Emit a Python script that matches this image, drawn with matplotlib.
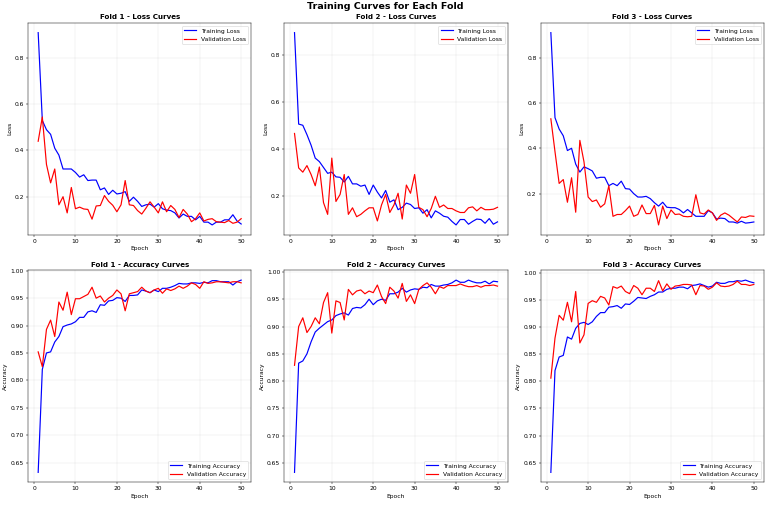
import matplotlib
matplotlib.use("Agg")
import matplotlib.pyplot as plt
import numpy as np

epochs = np.arange(1, 51)

# Fold 1
f1_train_loss = [0.91, 0.53, 0.49, 0.47, 0.41, 0.38, 0.32, 0.32, 0.32, 0.305,
                 0.285, 0.295, 0.27, 0.272, 0.272, 0.23, 0.238, 0.21, 0.228, 0.212,
                 0.215, 0.222, 0.18, 0.198, 0.18, 0.158, 0.165, 0.168, 0.155, 0.17,
                 0.148, 0.142, 0.14, 0.13, 0.108, 0.125, 0.115, 0.115, 0.1, 0.115,
                 0.09, 0.09, 0.078, 0.09, 0.09, 0.1, 0.1, 0.122, 0.095, 0.082]
f1_val_loss = [0.44, 0.545, 0.34, 0.26, 0.32, 0.165, 0.2, 0.13, 0.24, 0.148,
               0.155, 0.147, 0.145, 0.103, 0.16, 0.162, 0.205, 0.18, 0.163, 0.135,
               0.165, 0.27, 0.165, 0.162, 0.14, 0.125, 0.15, 0.178, 0.155, 0.13,
               0.178, 0.135, 0.162, 0.145, 0.11, 0.145, 0.125, 0.092, 0.105, 0.13,
               0.095, 0.102, 0.105, 0.092, 0.09, 0.088, 0.097, 0.085, 0.09, 0.105]
f1_train_acc = [0.632, 0.82, 0.85, 0.852, 0.87, 0.88, 0.898, 0.901, 0.903, 0.907,
                0.915, 0.915, 0.925, 0.927, 0.924, 0.938, 0.937, 0.945, 0.946, 0.951,
                0.95, 0.944, 0.955, 0.955, 0.956, 0.965, 0.963, 0.96, 0.965, 0.962,
                0.968, 0.968, 0.97, 0.973, 0.977, 0.976, 0.976, 0.978, 0.978, 0.977,
                0.979, 0.978, 0.982, 0.982, 0.98, 0.98, 0.98, 0.974, 0.98, 0.983]
f1_val_acc = [0.852, 0.825, 0.893, 0.91, 0.88, 0.943, 0.928, 0.961, 0.92, 0.949,
              0.949, 0.953, 0.957, 0.97, 0.95, 0.954, 0.943, 0.95, 0.955, 0.965,
              0.958, 0.927, 0.958, 0.96, 0.962, 0.97, 0.963, 0.96, 0.965, 0.968,
              0.959, 0.967, 0.964, 0.967, 0.972, 0.968, 0.972, 0.978, 0.975, 0.968,
              0.98, 0.977, 0.978, 0.98, 0.98, 0.979, 0.978, 0.98, 0.98, 0.978]

# Fold 2
f2_train_loss = [0.895, 0.505, 0.5, 0.46, 0.415, 0.36, 0.345, 0.32, 0.295, 0.3,
                 0.28, 0.278, 0.258, 0.282, 0.25, 0.25, 0.24, 0.245, 0.205, 0.245,
                 0.215, 0.19, 0.222, 0.172, 0.182, 0.14, 0.15, 0.168, 0.162, 0.145,
                 0.148, 0.125, 0.14, 0.105, 0.135, 0.125, 0.112, 0.108, 0.09, 0.075,
                 0.098, 0.098, 0.078, 0.09, 0.1, 0.098, 0.082, 0.102, 0.078, 0.088]
f2_val_loss = [0.465, 0.318, 0.3, 0.328, 0.29, 0.242, 0.322, 0.17, 0.12, 0.36,
               0.175, 0.205, 0.29, 0.12, 0.148, 0.11, 0.12, 0.135, 0.148, 0.148,
               0.092, 0.16, 0.205, 0.128, 0.16, 0.21, 0.1, 0.245, 0.21, 0.29,
               0.15, 0.14, 0.11, 0.145, 0.197, 0.15, 0.16, 0.145, 0.145, 0.135,
               0.128, 0.128, 0.148, 0.152, 0.135, 0.15, 0.14, 0.14, 0.142, 0.15]
f2_train_acc = [0.633, 0.833, 0.837, 0.85, 0.872, 0.89, 0.897, 0.903, 0.909, 0.912,
                0.92, 0.923, 0.925, 0.921, 0.933, 0.935, 0.934, 0.94, 0.95, 0.94,
                0.947, 0.95, 0.948, 0.96, 0.96, 0.963, 0.97, 0.963, 0.967, 0.969,
                0.968, 0.972, 0.971, 0.977, 0.974, 0.974, 0.976, 0.977, 0.98, 0.985,
                0.981, 0.981, 0.985, 0.982, 0.98, 0.98, 0.983, 0.978, 0.983, 0.982]
f2_val_acc = [0.829, 0.9, 0.916, 0.889, 0.9, 0.916, 0.905, 0.944, 0.962, 0.888,
              0.947, 0.944, 0.912, 0.968, 0.958, 0.965, 0.967, 0.96, 0.965, 0.962,
              0.976, 0.955, 0.942, 0.972, 0.965, 0.952, 0.979, 0.946, 0.958, 0.942,
              0.968, 0.975, 0.98, 0.972, 0.96, 0.973, 0.97, 0.975, 0.975, 0.975,
              0.978, 0.975, 0.973, 0.973, 0.975, 0.972, 0.975, 0.975, 0.976, 0.974]

# Fold 3
f3_train_loss = [0.91, 0.535, 0.485, 0.455, 0.39, 0.4, 0.33, 0.295, 0.318, 0.31,
                 0.3, 0.268, 0.272, 0.272, 0.235, 0.245, 0.235, 0.255, 0.222, 0.22,
                 0.2, 0.185, 0.185, 0.188, 0.178, 0.16, 0.145, 0.162, 0.14, 0.138,
                 0.138, 0.13, 0.115, 0.13, 0.115, 0.1, 0.1, 0.1, 0.125, 0.115,
                 0.088, 0.092, 0.09, 0.075, 0.075, 0.07, 0.078, 0.07, 0.072, 0.075]
f3_val_loss = [0.53, 0.385, 0.245, 0.262, 0.162, 0.27, 0.118, 0.435, 0.34, 0.185,
               0.165, 0.172, 0.14, 0.155, 0.235, 0.1, 0.108, 0.108, 0.125, 0.145,
               0.1, 0.108, 0.15, 0.112, 0.112, 0.148, 0.062, 0.145, 0.09, 0.128,
               0.108, 0.11, 0.1, 0.098, 0.1, 0.195, 0.115, 0.11, 0.128, 0.115,
               0.082, 0.105, 0.115, 0.105, 0.09, 0.075, 0.097, 0.095, 0.102, 0.1]
f3_train_acc = [0.632, 0.82, 0.845, 0.848, 0.882, 0.878, 0.898, 0.907, 0.909, 0.905,
                0.91, 0.92, 0.927, 0.927, 0.937, 0.938, 0.94, 0.935, 0.943, 0.942,
                0.948, 0.955, 0.954, 0.953, 0.957, 0.96, 0.965, 0.965, 0.97, 0.972,
                0.972, 0.974, 0.974, 0.971, 0.977, 0.978, 0.98, 0.977, 0.974, 0.976,
                0.983, 0.981, 0.981, 0.984, 0.984, 0.986, 0.985, 0.987, 0.984, 0.982]
f3_val_acc = [0.806, 0.88, 0.922, 0.913, 0.946, 0.91, 0.966, 0.871, 0.886, 0.944,
              0.949, 0.946, 0.957, 0.954, 0.941, 0.975, 0.972, 0.976, 0.966, 0.962,
              0.977, 0.972, 0.96, 0.972, 0.972, 0.966, 0.986, 0.967, 0.98, 0.97,
              0.976, 0.977, 0.979, 0.979, 0.978, 0.96, 0.977, 0.976, 0.97, 0.974,
              0.982, 0.976, 0.975, 0.976, 0.979, 0.985, 0.979, 0.979, 0.977, 0.979]

folds = [
    (f1_train_loss, f1_val_loss, f1_train_acc, f1_val_acc),
    (f2_train_loss, f2_val_loss, f2_train_acc, f2_val_acc),
    (f3_train_loss, f3_val_loss, f3_train_acc, f3_val_acc),
]

dpi = 770 / 18
fig, axes = plt.subplots(2, 3, figsize=(18, 507 / dpi))

for i, (tl, vl, ta, va) in enumerate(folds):
    ax = axes[0, i]
    ax.plot(epochs, tl, color='blue', linewidth=2, label='Training Loss')
    ax.plot(epochs, vl, color='red', linewidth=2, label='Validation Loss')
    ax.set_title(f'Fold {i + 1} - Loss Curves', fontweight='bold', fontsize=12)
    ax.set_xlabel('Epoch')
    ax.set_ylabel('Loss')
    ax.legend()
    ax.grid(True, alpha=0.3)

    ax = axes[1, i]
    ax.plot(epochs, ta, color='blue', linewidth=2, label='Training Accuracy')
    ax.plot(epochs, va, color='red', linewidth=2, label='Validation Accuracy')
    ax.set_title(f'Fold {i + 1} - Accuracy Curves', fontweight='bold', fontsize=12)
    ax.set_xlabel('Epoch')
    ax.set_ylabel('Accuracy')
    ax.legend()
    ax.grid(True, alpha=0.3)

fig.suptitle('Training Curves for Each Fold', fontsize=16, fontweight='bold',
             y=0.988, va='center')
fig.subplots_adjust(left=0.0364, right=0.9922, top=0.9546, bottom=0.0493,
                    wspace=0.148, hspace=0.17)
fig.savefig('out.png', dpi=dpi)
